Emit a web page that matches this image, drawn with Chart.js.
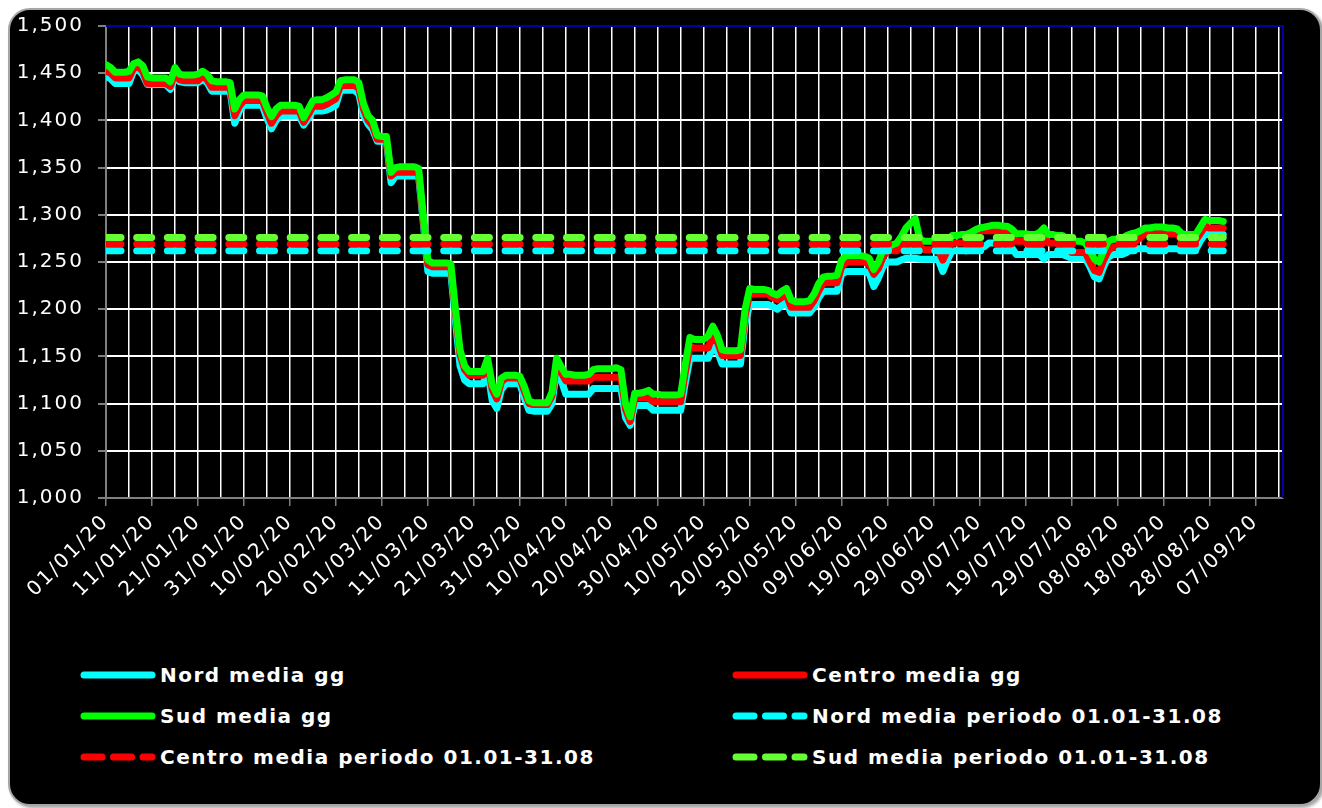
<!DOCTYPE html>
<html lang="it">
<head>
<meta charset="UTF-8">
<title>Prezzi medi giornalieri Nord / Centro / Sud</title>
<script src="https://cdn.jsdelivr.net/npm/chart.js"></script>
<style>
  body { margin: 0; width: 1322px; height: 808px; overflow: hidden; position: relative; background: #fff; font-family: "DejaVu Sans", Verdana, sans-serif; }
  .frame { position: absolute; left: 8px; top: 8px; width: 1310px; height: 794px; background: #000; border: 2px solid #a6a6a6; border-radius: 22px; box-shadow: 2px 2px 3px rgba(0,0,0,.35); }
  .chart-box { position: absolute; left: 0; top: 0; width: 1322px; height: 640px; }
  .legend-item { position: absolute; display: flex; align-items: center; height: 30px; color: #fff; font-weight: bold; font-size: 20px; letter-spacing: 1.5px; white-space: nowrap; }
  .legend-item canvas { margin-right: 4px; }
</style>
</head>
<body>
<div class="frame"></div>
<div class="chart-box"><canvas id="prezzi"></canvas></div>
<div id="legend"></div>

<script>
// tick labels, one every 10 days starting 01/01/20
const TICK_LABELS = ['01/01/20', '11/01/20', '21/01/20', '31/01/20', '10/02/20', '20/02/20', '01/03/20',
    '11/03/20', '21/03/20', '31/03/20', '10/04/20', '20/04/20', '30/04/20', '10/05/20', '20/05/20',
    '30/05/20', '09/06/20', '19/06/20', '29/06/20', '09/07/20', '19/07/20', '29/07/20', '08/08/20',
    '18/08/20', '28/08/20', '07/09/20'];

// daily averages 01/01 - 31/08 (index = day of year)
const NORD_GG = [
    1447,1444,1439,1439,1439,1439,1452,1454,1448,1438,
    1438,1438,1438,1438,1433,1446,1441,1440,1440,1440,
    1440,1443,1440,1431,1431,1431,1431,1431,1397,1410,
    1416,1416,1416,1416,1416,1402,1391,1400,1405,1405,
    1405,1405,1405,1395,1402,1410,1410,1410,1411,1413,
    1416,1432,1432,1432,1432,1428,1405,1396,1390,1378,
    1378,1378,1334,1341,1341,1341,1341,1341,1341,1292,
    1240,1238,1238,1238,1238,1238,1188,1140,1125,1121,
    1121,1121,1121,1135,1103,1095,1115,1121,1121,1121,
    1121,1106,1093,1092,1092,1092,1092,1100,1135,1125,
    1110,1110,1110,1110,1110,1110,1116,1116,1116,1116,
    1116,1116,1116,1085,1077,1098,1098,1098,1098,1093,
    1093,1093,1093,1093,1093,1093,1122,1148,1148,1148,
    1148,1148,1160,1155,1142,1142,1142,1142,1142,1185,
    1205,1205,1205,1205,1205,1203,1200,1204,1207,1196,
    1196,1196,1196,1196,1202,1212,1219,1219,1219,1219,
    1237,1240,1240,1240,1240,1240,1238,1224,1233,1245,
    1250,1250,1250,1252,1254,1254,1254,1253,1253,1253,
    1253,1253,1240,1252,1262,1262,1262,1262,1264,1266,
    1266,1266,1270,1270,1270,1270,1270,1265,1258,1258,
    1258,1258,1258,1258,1253,1258,1258,1258,1258,1256,
    1254,1254,1254,1254,1245,1234,1232,1245,1255,1258,
    1258,1258,1260,1264,1264,1264,1264,1264,1264,1264,
    1264,1264,1264,1264,1263,1263,1263,1263,1272,1279,
    1279,1279,1279,1279
];
const CENTRO_GG = [
    1452,1450,1445,1445,1445,1445,1455,1457,1452,1439,
    1439,1439,1439,1439,1436,1450,1443,1442,1442,1442,
    1442,1447,1443,1435,1435,1435,1435,1435,1405,1415,
    1421,1421,1421,1421,1421,1408,1397,1405,1410,1410,
    1410,1410,1410,1398,1406,1415,1415,1415,1417,1420,
    1423,1437,1437,1437,1437,1434,1412,1400,1394,1380,
    1380,1380,1341,1345,1345,1345,1345,1345,1345,1296,
    1247,1245,1245,1245,1245,1245,1196,1152,1136,1130,
    1130,1130,1130,1143,1115,1105,1123,1127,1127,1127,
    1127,1113,1100,1099,1099,1099,1099,1108,1143,1133,
    1124,1124,1124,1124,1124,1124,1128,1128,1128,1128,
    1128,1128,1128,1094,1081,1106,1106,1106,1106,1102,
    1102,1102,1102,1102,1102,1102,1133,1160,1159,1159,
    1159,1159,1173,1165,1151,1151,1151,1151,1151,1193,
    1216,1216,1216,1216,1216,1212,1210,1213,1215,1202,
    1202,1202,1202,1202,1209,1219,1228,1228,1228,1228,
    1245,1250,1250,1250,1250,1250,1247,1237,1243,1255,
    1262,1262,1262,1265,1268,1270,1272,1266,1263,1263,
    1263,1263,1252,1262,1270,1270,1270,1270,1274,1278,
    1283,1283,1283,1283,1283,1283,1283,1279,1272,1272,
    1272,1272,1272,1272,1276,1270,1270,1270,1270,1265,
    1260,1260,1260,1260,1250,1241,1239,1252,1262,1266,
    1266,1266,1270,1272,1272,1276,1280,1280,1280,1280,
    1280,1280,1280,1280,1273,1273,1273,1273,1280,1287,
    1286,1286,1286,1286
];
const SUD_GG = [
    1459,1456,1451,1451,1451,1452,1460,1462,1458,1446,
    1445,1445,1445,1445,1441,1456,1449,1448,1448,1448,
    1449,1452,1449,1442,1441,1441,1441,1440,1412,1422,
    1427,1427,1427,1427,1426,1414,1404,1412,1416,1416,
    1416,1416,1415,1403,1412,1421,1422,1422,1424,1427,
    1430,1442,1443,1443,1443,1440,1418,1405,1400,1384,
    1383,1383,1345,1350,1351,1351,1351,1351,1349,1300,
    1252,1249,1249,1249,1249,1248,1200,1157,1140,1134,
    1134,1134,1134,1148,1120,1110,1127,1130,1130,1130,
    1129,1118,1103,1101,1101,1101,1101,1112,1148,1139,
    1131,1131,1130,1130,1130,1131,1136,1137,1137,1137,
    1137,1138,1136,1100,1086,1111,1111,1112,1114,1110,
    1110,1109,1109,1109,1109,1110,1142,1170,1168,1168,
    1168,1172,1182,1172,1157,1156,1156,1156,1157,1200,
    1222,1221,1221,1221,1220,1217,1215,1219,1222,1210,
    1208,1208,1208,1209,1216,1227,1234,1235,1235,1236,
    1252,1257,1257,1257,1257,1256,1254,1242,1250,1263,
    1267,1268,1270,1277,1286,1291,1296,1274,1272,1272,
    1272,1270,1263,1270,1278,1278,1279,1279,1281,1284,
    1286,1287,1288,1289,1289,1288,1288,1285,1280,1280,
    1280,1279,1279,1281,1286,1279,1279,1278,1278,1275,
    1273,1272,1272,1270,1262,1253,1250,1262,1272,1274,
    1274,1275,1278,1280,1281,1283,1286,1286,1287,1287,
    1287,1286,1286,1285,1280,1279,1279,1279,1287,1295,
    1294,1294,1294,1293
];

// period averages 01.01-31.08: Nord, Centro, Sud
const PERIOD_AVG = [1262, 1269, 1276];
const PERIOD_DAYS = [0, 243];

const COLORS = ['#00ffff', '#ff0000', '#00ff00'];
const PERIOD_COLORS = ['#00ffff', '#ff0000', '#66ff33'];

const toPoints = arr => arr.map((v, i) => ({ x: i, y: v }));
const flat = avg => PERIOD_DAYS.map(d => ({ x: d, y: avg }));
const fmt = v => String(v).replace(/\B(?=(\d{3})+(?!\d))/g, ',');

const lineBase = { borderWidth: 7, pointRadius: 0, tension: 0, borderJoinStyle: 'round', borderCapStyle: 'round', clip: 0 };
const dash = [15, 15.7];

const tickFont = { family: 'DejaVu Sans', size: 20 };

// blue frame on top/right of plot + wider letter spacing for axis text
const plotFrame = {
    id: 'plotFrame',
    beforeUpdate(chart) { chart.ctx.letterSpacing = '2px'; },
    beforeDraw(chart) { chart.ctx.letterSpacing = '2px'; },
    afterDraw(chart) {
        const { ctx, chartArea: a } = chart;
        ctx.save();
        ctx.strokeStyle = '#0000a8';
        ctx.lineWidth = 2;
        ctx.beginPath();
        ctx.moveTo(a.left, a.top);
        ctx.lineTo(a.right, a.top);
        ctx.lineTo(a.right, a.bottom);
        ctx.stroke();
        ctx.restore();
    }
};

const chart = new Chart(document.getElementById('prezzi'), {
    type: 'line',
    data: {
        datasets: [
            { ...lineBase, label: 'Nord media gg', data: toPoints(NORD_GG), borderColor: COLORS[0], order: 5 },
            { ...lineBase, label: 'Centro media gg', data: toPoints(CENTRO_GG), borderColor: COLORS[1], order: 4 },
            { ...lineBase, label: 'Sud media gg', data: toPoints(SUD_GG), borderColor: COLORS[2], order: 3 },
            { ...lineBase, label: 'Nord media periodo 01.01-31.08', data: flat(PERIOD_AVG[0]), borderColor: PERIOD_COLORS[0], borderDash: dash, order: 2 },
            { ...lineBase, label: 'Centro media periodo 01.01-31.08', data: flat(PERIOD_AVG[1]), borderColor: PERIOD_COLORS[1], borderDash: dash, order: 1 },
            { ...lineBase, label: 'Sud media periodo 01.01-31.08', data: flat(PERIOD_AVG[2]), borderColor: PERIOD_COLORS[2], borderDash: dash, order: 0 }
        ]
    },
    options: {
        responsive: true,
        maintainAspectRatio: false,
        animation: false,
        layout: { padding: { left: 0, top: 24, right: 39, bottom: 0 } },
        plugins: { legend: { display: false }, tooltip: { enabled: false } },
        scales: {
            x: {
                type: 'linear',
                min: 0,
                max: 256,
                afterBuildTicks(s) { s.ticks = Array.from({ length: 52 }, (_, i) => ({ value: i * 5 })); },
                afterFit(s) { s.height = 142; },
                ticks: {
                    autoSkip: false,
                    minRotation: 45,
                    maxRotation: 45,
                    padding: 4,
                    color: '#fff',
                    font: tickFont,
                    callback: v => (v % 10 === 0 ? TICK_LABELS[v / 10] : '')
                },
                grid: {
                    color: '#fff',
                    lineWidth: 1.5,
                    tickLength: 8,
                    tickColor: c => (c.tick && c.tick.value % 10 === 0 ? '#808080' : 'rgba(0,0,0,0)')
                },
                border: { color: '#808080', width: 2 }
            },
            y: {
                min: 1000,
                max: 1500,
                afterFit(s) { s.width = 106; },
                ticks: { stepSize: 25, padding: 14, color: '#fff', font: tickFont, callback: v => fmt(v) },
                grid: { color: '#fff', lineWidth: 2, tickLength: 8, tickColor: '#808080' },
                border: { color: '#808080', width: 2 }
            }
        }
    },
    plugins: [plotFrame]
});

// legend: two columns, three rows
const legendX = [80, 732];
const legendY = [675, 716, 757];
const legend = document.getElementById('legend');
chart.data.datasets.forEach((ds, i) => {
    const item = document.createElement('div');
    item.className = 'legend-item';
    item.style.left = legendX[i % 2] + 'px';
    item.style.top = (legendY[Math.floor(i / 2)] - 15) + 'px';
    const cv = document.createElement('canvas');
    cv.width = 76;
    cv.height = 12;
    const c = cv.getContext('2d');
    c.strokeStyle = ds.borderColor;
    c.lineWidth = 7;
    c.lineCap = 'round';
    if (ds.borderDash) c.setLineDash([18, 11.5]);
    c.beginPath();
    c.moveTo(4, 6);
    c.lineTo(72, 6);
    c.stroke();
    const span = document.createElement('span');
    span.textContent = ds.label;
    item.appendChild(cv);
    item.appendChild(span);
    legend.appendChild(item);
});
</script>
</body>
</html>
